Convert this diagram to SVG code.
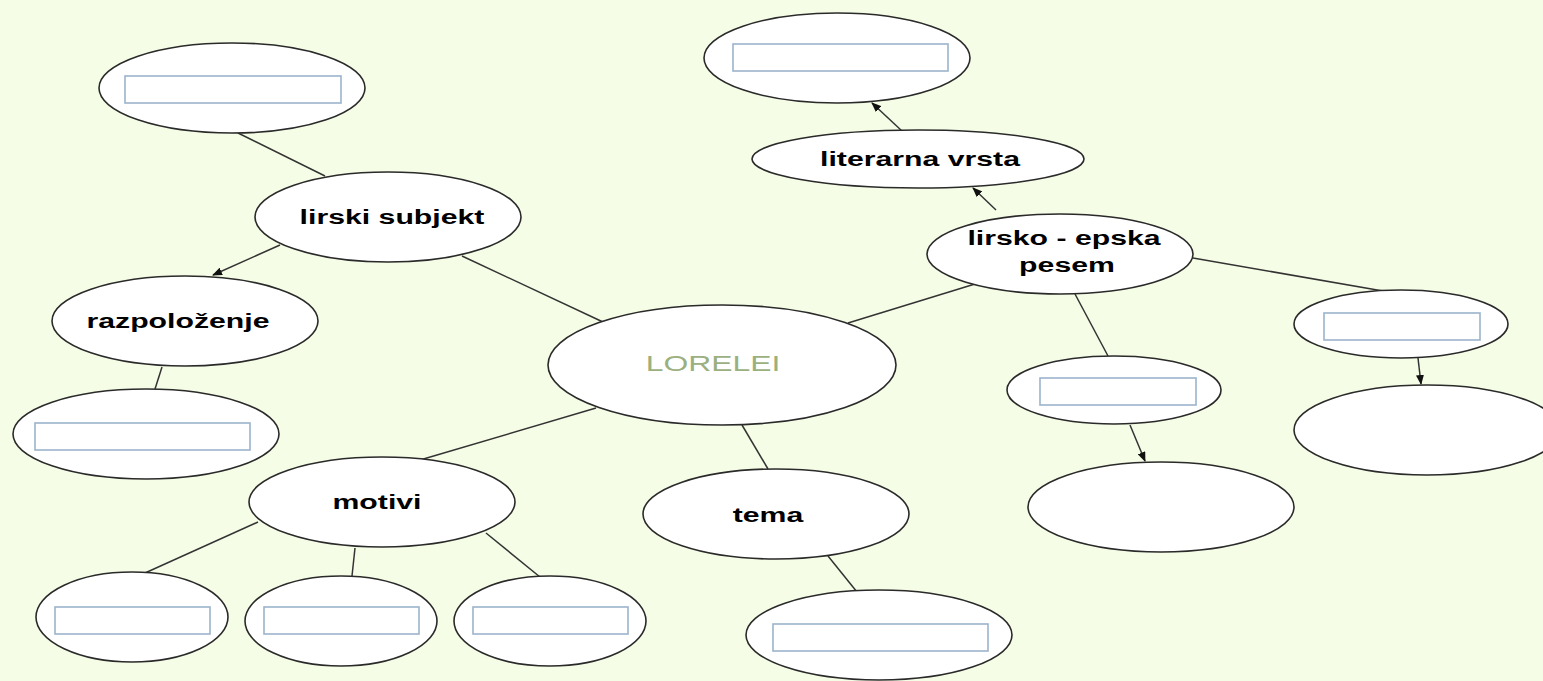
<svg xmlns="http://www.w3.org/2000/svg" width="1543" height="681" viewBox="0 0 1543 681">
<defs>
<marker id="arr" markerWidth="10" markerHeight="8" refX="9" refY="4" orient="auto" markerUnits="userSpaceOnUse">
<path d="M0,0 L10,4 L0,8 Z" fill="#111"/>
</marker>
<style>
.n{fill:#fff;stroke:#2a2a2a;stroke-width:1.6}
.b{fill:#fff;stroke:#9bb3cc;stroke-width:1.6}
.c{stroke:#333;stroke-width:1.5;fill:none}
.t{font-family:"Liberation Sans",Arial,sans-serif;font-weight:bold;font-size:21px;fill:#000;text-anchor:middle}
.m{font-family:"Liberation Sans",Arial,sans-serif;font-size:22px;fill:#9bb07f;text-anchor:middle}
</style>
</defs>
<rect width="1543" height="681" fill="#f5fde6"/>
<g id="connectors">
<line class="c" x1="238" y1="133" x2="325" y2="176"/>
<line class="c" x1="280" y1="245" x2="213" y2="275" marker-end="url(#arr)"/>
<line class="c" x1="162" y1="367" x2="155" y2="389"/>
<line class="c" x1="462" y1="256" x2="603" y2="322"/>
<line class="c" x1="596" y1="408" x2="420" y2="460"/>
<line class="c" x1="258" y1="522" x2="145" y2="573"/>
<line class="c" x1="355" y1="548" x2="352" y2="576"/>
<line class="c" x1="486" y1="533" x2="540" y2="577"/>
<line class="c" x1="742" y1="425" x2="768" y2="469"/>
<line class="c" x1="828" y1="556" x2="857" y2="592"/>
<line class="c" x1="848" y1="323" x2="975" y2="284"/>
<line class="c" x1="996" y1="210" x2="973" y2="188" marker-end="url(#arr)"/>
<line class="c" x1="902" y1="131" x2="872" y2="103" marker-end="url(#arr)"/>
<line class="c" x1="1075" y1="294" x2="1108" y2="356"/>
<line class="c" x1="1130" y1="425" x2="1145" y2="461" marker-end="url(#arr)"/>
<line class="c" x1="1193" y1="258" x2="1383" y2="291"/>
<line class="c" x1="1418" y1="358" x2="1421" y2="384" marker-end="url(#arr)"/>
</g>
<g id="n-top-left"><ellipse class="n" cx="232" cy="88" rx="133" ry="45"/><rect class="b" x="125" y="76" width="216" height="27"/></g>
<g id="n-lirski-subjekt"><ellipse class="n" cx="388" cy="217" rx="133" ry="45"/><text class="t" transform="translate(392,224) scale(1.44,1)">lirski subjekt</text></g>
<g id="n-razpolozenje"><ellipse class="n" cx="185" cy="321" rx="133" ry="45"/><text class="t" transform="translate(178,328) scale(1.44,1)">razpoloženje</text></g>
<g id="n-bottom-left"><ellipse class="n" cx="146" cy="434" rx="133" ry="45"/><rect class="b" x="35" y="423" width="215" height="27"/></g>
<g id="n-lorelei"><ellipse class="n" cx="722" cy="365" rx="174" ry="60"/><text class="m" transform="translate(713,371) scale(1.45,1)">LORELEI</text></g>
<g id="n-motivi"><ellipse class="n" cx="382" cy="502" rx="133" ry="45"/><text class="t" transform="translate(377,509) scale(1.44,1)">motivi</text></g>
<g id="n-m1"><ellipse class="n" cx="132" cy="617" rx="96" ry="45"/><rect class="b" x="55" y="607" width="155" height="27"/></g>
<g id="n-m2"><ellipse class="n" cx="341" cy="621" rx="96" ry="45"/><rect class="b" x="264" y="607" width="155" height="27"/></g>
<g id="n-m3"><ellipse class="n" cx="550" cy="621" rx="96" ry="45"/><rect class="b" x="473" y="607" width="155" height="27"/></g>
<g id="n-tema"><ellipse class="n" cx="776" cy="514" rx="133" ry="45"/><text class="t" transform="translate(768,522) scale(1.44,1)">tema</text></g>
<g id="n-tema-child"><ellipse class="n" cx="879" cy="635" rx="133" ry="45"/><rect class="b" x="773" y="624" width="215" height="27"/></g>
<g id="n-top-right"><ellipse class="n" cx="837" cy="58" rx="133" ry="45"/><rect class="b" x="733" y="44" width="215" height="27"/></g>
<g id="n-literarna-vrsta"><ellipse class="n" cx="918" cy="159" rx="166" ry="29"/><text class="t" transform="translate(920,166) scale(1.44,1)">literarna vrsta</text></g>
<g id="n-lirsko-epska"><ellipse class="n" cx="1060" cy="254" rx="133" ry="40"/><text class="t" transform="translate(1064,245) scale(1.44,1)">lirsko - epska</text><text class="t" transform="translate(1067,272) scale(1.44,1)">pesem</text></g>
<g id="n-r1"><ellipse class="n" cx="1114" cy="390" rx="107" ry="34"/><rect class="b" x="1040" y="378" width="156" height="27"/></g>
<g id="n-r1-child"><ellipse class="n" cx="1161" cy="507" rx="133" ry="45"/></g>
<g id="n-r2"><ellipse class="n" cx="1401" cy="324" rx="107" ry="34"/><rect class="b" x="1324" y="313" width="156" height="27"/></g>
<g id="n-r2-child"><ellipse class="n" cx="1427" cy="430" rx="133" ry="45"/></g>
</svg>
